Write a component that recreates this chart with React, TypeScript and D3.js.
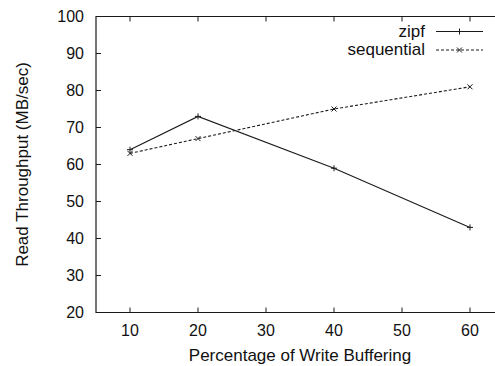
import React from "react";
import * as d3 from "d3";

const xValues = [10, 20, 40, 60];
const zipf = [64, 73, 59, 43];
const sequential = [63, 67, 75, 81];
const xTicks = [10, 20, 30, 40, 50, 60];
const yTicks = [20, 30, 40, 50, 60, 70, 80, 90, 100];
const seriesNames = ["zipf", "sequential"];

const W = 495;
const H = 366;
const FONT = "'Liberation Sans', Arial, Helvetica, sans-serif";

export default function App() {
  const x = d3.scaleLinear().domain([5, 65]).range([96, 504]);
  const y = d3.scaleLinear().domain([20, 100]).range([312.5, 16.5]);
  const line = d3
    .line<[number, number]>()
    .x((d) => x(d[0]))
    .y((d) => y(d[1]));
  const zipfPts: [number, number][] = xValues.map((v, i) => [v, zipf[i]]);
  const seqPts: [number, number][] = xValues.map((v, i) => [v, sequential[i]]);
  const stroke = "#1a1a1a";
  const plus = (cx: number, cy: number, k: string) => (
    <path key={k} d={`M${cx - 3},${cy}H${cx + 3}M${cx},${cy - 3}V${cy + 3}`} stroke={stroke} strokeWidth={1} />
  );
  const cross = (cx: number, cy: number, k: string) => (
    <path key={k} d={`M${cx - 2.5},${cy - 2.5}L${cx + 2.5},${cy + 2.5}M${cx - 2.5},${cy + 2.5}L${cx + 2.5},${cy - 2.5}`} stroke={stroke} strokeWidth={1} />
  );
  const [x0, x1] = x.range();
  const [yb, yt] = y.range();
  return (
    <svg
      width={W}
      height={H}
      style={{ position: "absolute", left: 0, top: 0, background: "#fff" }}
      fontFamily={FONT}
    >
      <rect x={0} y={0} width={W} height={H} fill="#fff" />
      {/* frame */}
      <path d={`M${x1},${yt}H${x0}V${yb}H${x1}`} fill="none" stroke={stroke} strokeWidth={1.2} />
      {/* y ticks */}
      {yTicks.map((t) => (
        <g key={"y" + t}>
          <line x1={x0} x2={x0 + 5} y1={y(t)} y2={y(t)} stroke={stroke} />
          <text x={84} y={y(t)} dy="0.36em" textAnchor="end" fontSize={16} fill="#111">
            {t}
          </text>
        </g>
      ))}
      {/* x ticks */}
      {xTicks.map((t) => (
        <g key={"x" + t}>
          <line x1={x(t)} x2={x(t)} y1={yb} y2={yb - 5} stroke={stroke} />
          <line x1={x(t)} x2={x(t)} y1={yt} y2={yt + 5} stroke={stroke} />
          <text x={x(t)} y={336} textAnchor="middle" fontSize={16} fill="#111">
            {t}
          </text>
        </g>
      ))}
      <text x={300} y={361} textAnchor="middle" fontSize={17} fill="#111">
        Percentage of Write Buffering
      </text>
      <text
        transform={`translate(28,${(yb + yt) / 2}) rotate(-90)`}
        textAnchor="middle"
        fontSize={17}
        fill="#111"
      >
        Read Throughput (MB/sec)
      </text>
      {/* series */}
      <path d={line(zipfPts) || ""} fill="none" stroke={stroke} strokeWidth={1.1} />
      {zipfPts.map((p, i) => plus(x(p[0]), y(p[1]), "zp" + i))}
      <path d={line(seqPts) || ""} fill="none" stroke={stroke} strokeWidth={1.1} strokeDasharray="3,2" />
      {seqPts.map((p, i) => cross(x(p[0]), y(p[1]), "sp" + i))}
      {/* legend */}
      <text x={425} y={36.5} textAnchor="end" fontSize={17} fill="#111">
        {seriesNames[0]}
      </text>
      <line x1={436} x2={483} y1={31.5} y2={31.5} stroke={stroke} strokeWidth={1.1} />
      {plus(459.5, 31.5, "lz")}
      <text x={425} y={55} textAnchor="end" fontSize={17} fill="#111">
        {seriesNames[1]}
      </text>
      <line x1={436} x2={483} y1={50} y2={50} stroke={stroke} strokeWidth={1.1} strokeDasharray="3,2" />
      {cross(459.5, 50, "ls")}
    </svg>
  );
}
